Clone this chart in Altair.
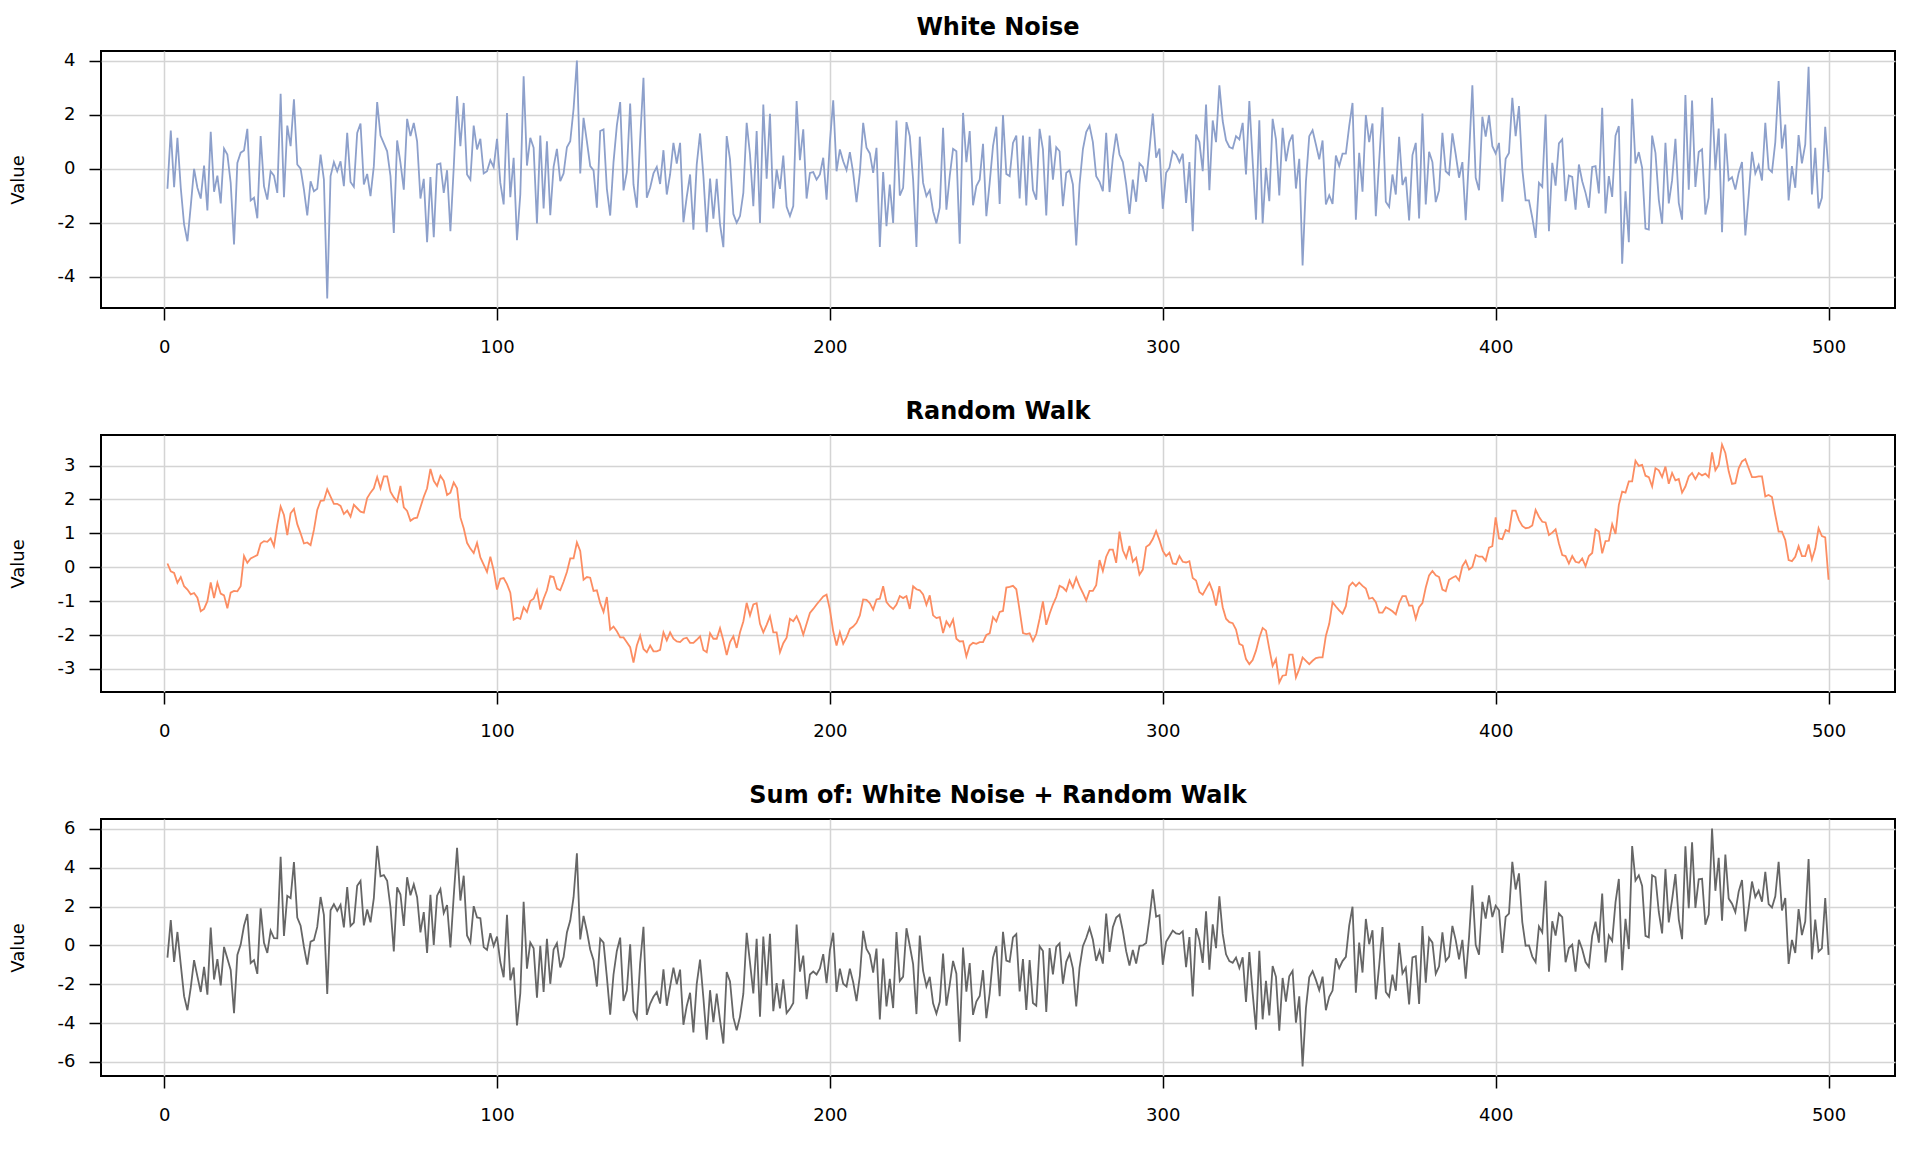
import altair as alt
import pandas as pd

t = list(range(1, 501))

white_noise = [
    -0.74, 1.42, -0.68, 1.15, -0.7, -2.06, -2.68, -1.38, 0.0, -0.7,
    -1.1, 0.12, -1.54, 1.37, -0.85, -0.25, -1.28, 0.75, 0.53, -0.52,
    -2.8, 0.22, 0.6, 0.68, 1.48, -1.17, -1.07, -1.83, 1.21, -0.64,
    -1.14, -0.09, -0.25, -0.89, 2.78, -1.05, 1.6, 0.84, 2.57, 0.16,
    0.01, -0.77, -1.72, -0.46, -0.83, -0.74, 0.53, -0.4, -4.8, -0.27,
    0.25, -0.09, 0.28, -0.64, 1.33, -0.49, -0.67, 1.33, 1.68, -0.58,
    -0.19, -1.01, 0.1, 2.47, 1.23, 0.94, 0.65, -0.27, -2.37, 1.05,
    0.22, -0.77, 1.85, 1.21, 1.7, 1.02, -1.1, -0.37, -2.72, -0.3,
    -2.53, 0.16, 0.2, -0.89, -0.05, -2.31, 0.04, 2.69, 0.84, 2.44,
    -0.21, -0.4, 1.6, 0.72, 1.11, -0.17, -0.09, 0.32, 0.06, 1.11,
    -0.52, -1.32, 2.07, -1.05, 0.41, -2.64, -0.95, 3.43, 0.12, 1.15,
    0.78, -2.02, 1.23, -1.47, 1.02, -1.72, 0.07, 0.74, -0.46, -0.17,
    0.8, 1.02, 2.22, 4.01, -0.17, 1.89, 1.02, 0.1, -0.06, -1.44,
    1.4, 1.46, -0.74, -1.73, 0.25, 1.6, 2.47, -0.8, -0.12, 2.42,
    -0.58, -1.44, 1.09, 3.37, -1.07, -0.7, -0.17, 0.07, -0.56, 0.69,
    -0.95, -0.21, 0.96, 0.19, 0.96, -1.98, -1.04, -0.21, -2.25, 0.16,
    1.31, -0.27, -2.35, -0.36, -1.85, -0.37, -2.06, -2.9, 1.21, 0.35,
    -1.67, -2.0, -1.75, -0.89, 1.7, 0.53, -1.38, 1.4, -2.0, 2.38,
    -0.37, 2.04, -1.47, -0.02, -0.74, 0.49, -1.41, -1.75, -1.38, 2.51,
    0.32, 1.46, -1.1, -0.15, -0.12, -0.4, -0.21, 0.41, -1.14, 1.0,
    2.54, -0.09, 0.72, 0.28, -0.05, 0.62, -0.15, -1.23, -0.15, 1.7,
    0.78, 0.57, -0.15, 0.78, -2.89, -0.12, -2.12, -0.58, -2.0, 1.79,
    -0.99, -0.7, 1.73, 1.21, -0.4, -2.89, 1.19, -0.52, -1.01, -0.79,
    -1.57, -2.02, -1.44, 1.52, -1.51, -0.27, 0.74, 0.65, -2.77, 2.07,
    0.25, 1.4, -1.35, -0.64, -0.4, 0.93, -1.75, -0.52, 0.84, 1.56,
    -1.3, 1.99, -0.19, -0.27, 0.96, 1.23, -1.1, 1.23, -1.36, 1.19,
    -0.79, -1.14, 1.48, 0.72, -1.73, 1.23, -0.4, 0.8, 0.65, -1.38,
    -0.15, -0.05, -0.58, -2.84, -0.58, 0.72, 1.36, 1.6, 0.99, -0.27,
    -0.48, -0.83, 1.33, -0.86, 0.41, 1.3, 0.53, 0.25, -0.58, -1.67,
    -0.4, -1.22, 0.2, 0.07, -0.48, 0.72, 2.05, 0.41, 0.75, -1.48,
    -0.15, 0.04, 0.65, 0.53, 0.25, 0.56, -1.26, 0.25, -2.31, 1.27,
    0.99, -0.09, 2.38, -0.79, 1.79, 0.99, 3.09, 1.77, 1.06, 0.81,
    0.75, 1.21, 1.09, 1.7, -0.21, 2.51, 0.28, -1.88, 1.8, -2.02,
    0.04, -1.2, 1.85, 1.09, -0.99, 1.52, 0.28, 0.99, 1.27, -0.73,
    0.37, -3.58, -0.48, 1.21, 1.43, 0.9, 0.35, 1.05, -1.32, -0.98,
    -1.3, 0.49, 0.1, 0.56, 0.56, 1.58, 2.44, -1.88, 0.59, -0.85,
    1.99, 0.99, 1.68, -1.75, 0.28, 2.28, -1.22, -1.41, -0.21, -0.95,
    1.19, -0.6, -0.3, -1.91, 0.51, 0.96, -1.84, 2.05, -1.32, 0.63,
    0.25, -1.23, -0.79, 1.33, -0.09, -0.21, 1.31, 0.53, -0.33, 0.25,
    -1.9, 0.49, 3.09, -0.33, -0.79, 1.93, 1.19, 1.99, 0.84, 0.57,
    0.96, -1.22, 0.37, 0.59, 2.63, 1.21, 2.32, -0.02, -1.17, -1.17,
    -1.81, -2.56, -0.52, -0.67, 2.01, -2.31, 0.22, -0.62, 0.94, 1.09,
    -1.2, -0.25, -0.3, -1.51, 0.16, -0.46, -0.89, -1.44, 0.07, 0.1,
    -0.91, 2.26, -1.65, -0.27, -1.04, 1.23, 1.58, -3.51, -0.83, -2.72,
    2.59, 0.2, 0.62, 0.04, -2.21, -2.25, 1.23, 0.59, -1.14, -2.04,
    0.96, -1.28, -0.42, 1.11, -1.26, -1.88, 2.73, -0.77, 2.53, -0.67,
    0.62, 0.72, -1.69, -1.07, 2.63, -0.05, 1.49, -2.35, 1.31, -0.42,
    -0.31, -0.77, -0.15, 0.25, -2.47, -0.99, 0.63, -0.17, 0.14, -0.43,
    1.7, 0.0, -0.12, 0.99, 3.25, 0.75, 1.64, -1.17, 0.1, -0.7,
    1.25, 0.2, 0.9, 3.78, -0.95, 0.78, -1.47, -1.07, 1.56, -0.12,
]

random_walk = [
    0.11, -0.12, -0.17, -0.46, -0.29, -0.56, -0.66, -0.8, -0.76, -0.9,
    -1.3, -1.23, -1.0, -0.45, -0.91, -0.46, -0.78, -0.83, -1.21, -0.75,
    -0.7, -0.71, -0.56, 0.33, 0.13, 0.26, 0.31, 0.36, 0.7, 0.77,
    0.75, 0.85, 0.62, 1.25, 1.79, 1.54, 0.95, 1.59, 1.72, 1.27,
    1.0, 0.7, 0.73, 0.65, 1.1, 1.69, 1.96, 1.97, 2.3, 2.08,
    1.87, 1.87, 1.81, 1.57, 1.67, 1.49, 1.84, 1.74, 1.64, 1.61,
    2.04, 2.2, 2.33, 2.66, 2.33, 2.68, 2.68, 2.23, 2.06, 1.94,
    2.4, 1.77, 1.66, 1.37, 1.44, 1.46, 1.77, 2.08, 2.33, 2.9,
    2.55, 2.4, 2.7, 2.55, 2.13, 2.2, 2.5, 2.33, 1.47, 1.15,
    0.72, 0.55, 0.42, 0.72, 0.29, 0.08, -0.14, 0.31, -0.09, -0.66,
    -0.34, -0.32, -0.5, -0.75, -1.55, -1.49, -1.52, -1.18, -1.32, -1.0,
    -0.93, -0.68, -1.25, -0.93, -0.68, -0.26, -0.29, -0.63, -0.68, -0.43,
    -0.14, 0.26, 0.26, 0.73, 0.48, -0.37, -0.29, -0.31, -0.7, -0.68,
    -1.06, -1.32, -0.88, -1.84, -1.75, -1.89, -2.07, -2.07, -2.21, -2.36,
    -2.81, -2.31, -2.02, -2.41, -2.51, -2.31, -2.48, -2.48, -2.44, -1.92,
    -2.16, -1.92, -2.11, -2.19, -2.21, -2.11, -2.08, -2.23, -2.23, -2.14,
    -2.04, -2.44, -2.51, -1.95, -2.11, -2.11, -1.8, -2.16, -2.59, -2.21,
    -2.04, -2.38, -1.92, -1.6, -1.05, -1.42, -1.1, -1.06, -1.67, -1.92,
    -1.7, -1.45, -1.92, -1.92, -2.51, -2.24, -2.08, -1.52, -1.59, -1.44,
    -1.67, -1.99, -1.67, -1.35, -1.23, -1.1, -0.98, -0.86, -0.81, -1.25,
    -1.89, -2.31, -1.92, -2.26, -2.07, -1.82, -1.75, -1.64, -1.42, -0.95,
    -0.96, -1.06, -1.25, -0.95, -0.93, -0.56, -1.03, -1.15, -1.23, -1.1,
    -0.85, -0.91, -0.85, -1.23, -0.56, -0.65, -0.68, -0.8, -1.11, -0.83,
    -1.42, -1.5, -1.47, -1.94, -1.6, -1.75, -1.54, -2.11, -2.19, -2.18,
    -2.63, -2.31, -2.23, -2.26, -2.21, -2.21, -2.0, -1.95, -1.47, -1.6,
    -1.32, -1.29, -0.6, -0.58, -0.55, -0.65, -1.27, -1.94, -1.97, -1.95,
    -2.18, -1.97, -1.52, -1.01, -1.7, -1.37, -1.1, -0.88, -0.55, -0.6,
    -0.7, -0.39, -0.6, -0.31, -0.56, -0.76, -0.98, -0.7, -0.7, -0.53,
    0.21, -0.11, 0.31, 0.52, 0.52, 0.13, 1.05, 0.5, 0.28, 0.63,
    0.16, 0.28, -0.22, -0.07, 0.6, 0.67, 0.83, 1.07, 0.8, 0.48,
    0.33, 0.43, 0.11, 0.09, 0.33, 0.16, 0.14, 0.18, -0.32, -0.39,
    -0.73, -0.81, -0.63, -0.46, -0.71, -1.13, -0.56, -1.18, -1.52, -1.62,
    -1.65, -1.84, -2.26, -2.31, -2.71, -2.86, -2.74, -2.46, -2.08, -1.79,
    -1.87, -2.41, -2.91, -2.71, -3.4, -3.2, -3.18, -2.58, -2.58, -3.25,
    -3.0, -2.66, -2.76, -2.86, -2.76, -2.68, -2.66, -2.66, -2.02, -1.67,
    -1.03, -1.16, -1.27, -1.37, -1.15, -0.56, -0.45, -0.56, -0.45, -0.55,
    -0.63, -0.93, -0.9, -1.03, -1.34, -1.34, -1.18, -1.23, -1.3, -1.39,
    -1.06, -0.85, -0.85, -1.13, -1.13, -1.52, -1.18, -1.06, -0.6, -0.24,
    -0.11, -0.24, -0.29, -0.66, -0.71, -0.37, -0.31, -0.26, -0.39, 0.03,
    0.19, -0.07, 0.01, 0.36, 0.31, 0.31, 0.19, 0.58, 0.62, 1.47,
    0.85, 0.83, 1.1, 1.05, 1.67, 1.67, 1.39, 1.22, 1.15, 1.17,
    1.23, 1.69, 1.49, 1.34, 1.32, 0.95, 1.02, 1.12, 0.7, 0.36,
    0.33, 0.11, 0.33, 0.16, 0.13, 0.26, 0.03, 0.33, 0.42, 1.12,
    1.05, 0.41, 0.77, 0.78, 1.27, 0.98, 1.84, 2.23, 2.2, 2.53,
    2.53, 3.14, 2.99, 3.02, 2.7, 2.66, 2.38, 2.92, 2.86, 2.66,
    2.97, 2.46, 2.78, 2.56, 2.6, 2.2, 2.38, 2.68, 2.78, 2.6,
    2.78, 2.71, 2.76, 2.66, 3.39, 2.86, 3.02, 3.62, 3.37, 2.83,
    2.46, 2.48, 2.92, 3.12, 3.19, 2.92, 2.66, 2.66, 2.68, 2.68,
    2.09, 2.13, 2.07, 1.54, 1.05, 1.05, 0.8, 0.21, 0.18, 0.31,
    0.62, 0.33, 0.33, 0.67, 0.23, 0.55, 1.15, 0.92, 0.88, -0.37,
]

# the third panel is literally the sum of the two series above
combined = [round(a + b, 2) for a, b in zip(white_noise, random_walk)]

panels = [
    ('noise', 'White Noise', '#8DA0CB', [-4, -2, 0, 2, 4]),
    ('walk', 'Random Walk', '#FC8D62', [-3, -2, -1, 0, 1, 2, 3]),
    ('combined', 'Sum of: White Noise + Random Walk', '#666666', [-6, -4, -2, 0, 2, 4, 6]),
]
x_ticks = [0, 100, 200, 300, 400, 500]

df = pd.DataFrame({'t': t, 'noise': white_noise, 'walk': random_walk, 'combined': combined})

W, H = 1794, 257


def r_range(values):
    # base-R style axis range: data range plus 4% on each side
    lo, hi = min(values), max(values)
    pad = (hi - lo) * 0.04
    return [lo - pad, hi + pad]


minus_fix = "datum.value < 0 ? '-' + abs(datum.value) : '' + datum.value"

charts = []
for col, title, color, ticks in panels:
    c = alt.Chart(df, title=alt.Title(title, baseline='alphabetic', offset=-8)).mark_line(
        color=color, strokeWidth=1.8
    ).encode(
        x=alt.X('t:Q',
                scale=alt.Scale(domain=r_range(t), nice=False, zero=False),
                axis=alt.Axis(values=x_ticks, title=None, labelPadding=18, labelExpr=minus_fix)),
        y=alt.Y(f'{col}:Q',
                scale=alt.Scale(domain=r_range(df[col].tolist()), nice=False, zero=False),
                axis=alt.Axis(values=ticks, title='Value', labelPadding=14, labelExpr=minus_fix,
                              titleX=-83, titleY=H / 2, titleAngle=270,
                              titleAlign='center', titleBaseline='middle'))
    ).properties(width=W, height=H)
    charts.append(c)

chart = alt.vconcat(*charts, spacing=127).properties(
    bounds='flush',
    padding={'left': 0, 'top': 7, 'right': 0, 'bottom': 0},
    background='white',
).configure_view(
    stroke='black', strokeWidth=2
).configure_axis(
    domain=False,
    grid=True,
    gridColor='#d4d4d4',
    gridWidth=1.5,
    tickColor='black',
    tickWidth=1.5,
    tickSize=12,
    labelFont='DejaVu Sans',
    labelFontSize=18,
    labelColor='black',
    titleFont='DejaVu Sans',
    titleFontSize=18,
    titleFontWeight='normal',
    titleColor='black',
).configure_title(
    font='DejaVu Sans', fontSize=24, fontWeight='bold', anchor='middle', color='black'
)

chart.save("out.html", embed_options={"renderer": "svg", "actions": False})
